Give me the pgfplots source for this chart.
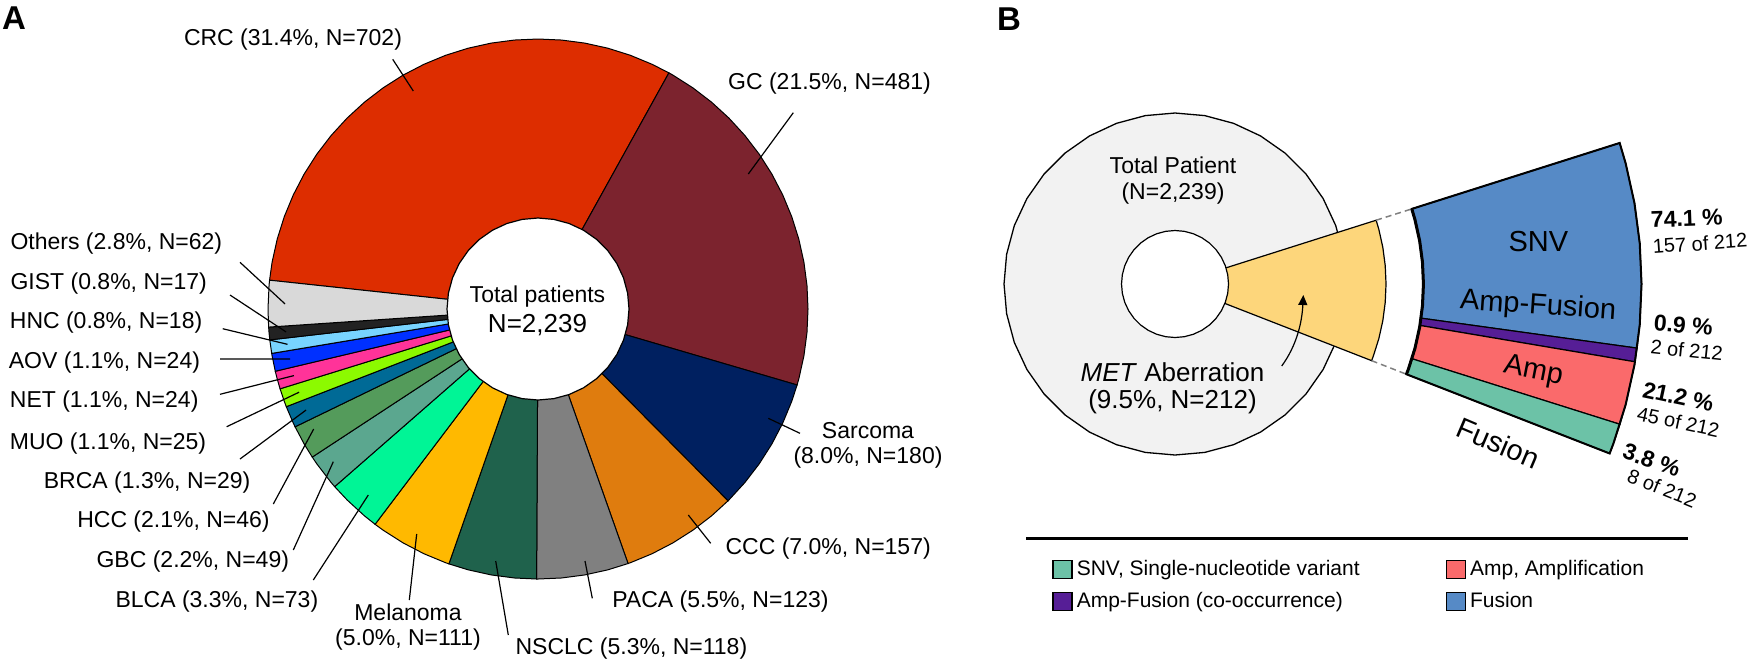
\documentclass[border=0pt]{standalone}
\usepackage{fontspec}
\setmainfont{Liberation Sans}
\usepackage{pgfplots}
\pgfplotsset{compat=1.18}
\usepgfplotslibrary{polar}
\usetikzlibrary{arrows.meta}

% panel A colours
\definecolor{crc}{HTML}{DD2D00}
\definecolor{gc}{HTML}{7C232E}
\definecolor{sarc}{HTML}{002060}
\definecolor{ccc}{HTML}{DF7C0E}
\definecolor{paca}{HTML}{808080}
\definecolor{nsclc}{HTML}{1F624C}
\definecolor{mela}{HTML}{FFB900}
\definecolor{blca}{HTML}{00F596}
\definecolor{gbc}{HTML}{5BA78F}
\definecolor{hcc}{HTML}{549B5B}
\definecolor{brca}{HTML}{006A96}
\definecolor{muo}{HTML}{8CFA00}
\definecolor{net}{HTML}{FF3399}
\definecolor{aov}{HTML}{0030FF}
\definecolor{hnc}{HTML}{78D4FF}
\definecolor{gist}{HTML}{222222}
\definecolor{others}{HTML}{D9D9D9}
% panel B colours
\definecolor{graycirc}{HTML}{F2F2F2}
\definecolor{metyellow}{HTML}{FDD67B}
\definecolor{fusblue}{HTML}{568AC6}
\definecolor{afpurple}{HTML}{561E96}
\definecolor{ampred}{HTML}{FA6A6B}
\definecolor{snvgreen}{HTML}{6CC2A7}

\newcommand{\labfont}{\fontsize{11.5}{12.5}\selectfont}
\newcommand{\bigfont}{\fontsize{13}{15}\selectfont}
\newcommand{\barfont}{\fontsize{14.5}{16}\selectfont}
\newcommand{\pctfont}{\fontsize{11.5}{13}\selectfont\bfseries}
\newcommand{\offont}{\fontsize{10}{12}\selectfont}

\pgfplotsset{
  slice/.style={data cs=polar, draw=black, line width=0.5pt, forget plot},
}

\begin{document}
\begin{tikzpicture}
\path[use as bounding box] (0,0) rectangle (874pt,-330.5pt);

% ---------------- A: patients by cancer type (N = 2,239) ----------------
% N: GC 481, Sarcoma 180, CCC 157, PACA 123, NSCLC 118, Melanoma 111, BLCA 73,
%    GBC 49, HCC 46, BRCA 29, MUO 25, NET 24, AOV 24, HNC 18, GIST 17,
%    Others 62, CRC 702  -> slice angles (deg), clockwise from 61
\begin{axis}[at={(0,0)}, anchor=north west, x=0.5pt, y=0.5pt,
  xmin=-538, xmax=1210, ymin=-352, ymax=309, hide axis, clip=false]

  \addplot[slice, fill=crc] coordinates {(0,0) (173.87,270) (170,270) (165,270) (160,270) (155,270) (150,270) (145,270) (140,270) (135,270) (130,270) (125,270) (120,270) (115,270) (110,270) (105,270) (100,270) (95,270) (90,270) (85,270) (80,270) (75,270) (70,270) (65,270) (61,270)} -- cycle;
  \addplot[slice, fill=gc] coordinates {(0,0) (61,270) (60,270) (55,270) (50,270) (45,270) (40,270) (35,270) (30,270) (25,270) (20,270) (15,270) (10,270) (5,270) (0,270) (-5,270) (-10,270) (-15,270) (-16.34,270)} -- cycle;
  \addplot[slice, fill=sarc] coordinates {(0,0) (-16.34,270) (-20,270) (-25,270) (-30,270) (-35,270) (-40,270) (-45,270) (-45.28,270)} -- cycle;
  \addplot[slice, fill=ccc] coordinates {(0,0) (-45.28,270) (-50,270) (-55,270) (-60,270) (-65,270) (-70,270) (-70.52,270)} -- cycle;
  \addplot[slice, fill=paca] coordinates {(0,0) (-70.52,270) (-75,270) (-80,270) (-85,270) (-90,270) (-90.30,270)} -- cycle;
  \addplot[slice, fill=nsclc] coordinates {(0,0) (-90.30,270) (-95,270) (-100,270) (-105,270) (-109.27,270)} -- cycle;
  \addplot[slice, fill=mela] coordinates {(0,0) (-109.27,270) (-110,270) (-115,270) (-120,270) (-125,270) (-127.12,270)} -- cycle;
  \addplot[slice, fill=blca] coordinates {(0,0) (-127.12,270) (-130,270) (-135,270) (-138.86,270)} -- cycle;
  \addplot[slice, fill=gbc] coordinates {(0,0) (-138.86,270) (-140,270) (-145,270) (-146.74,270)} -- cycle;
  \addplot[slice, fill=hcc] coordinates {(0,0) (-146.74,270) (-150,270) (-154.13,270)} -- cycle;
  \addplot[slice, fill=brca] coordinates {(0,0) (-154.13,270) (-155,270) (-158.79,270)} -- cycle;
  \addplot[slice, fill=muo] coordinates {(0,0) (-158.79,270) (-160,270) (-162.81,270)} -- cycle;
  \addplot[slice, fill=net] coordinates {(0,0) (-162.81,270) (-165,270) (-166.67,270)} -- cycle;
  \addplot[slice, fill=aov] coordinates {(0,0) (-166.67,270) (-170,270) (-170.53,270)} -- cycle;
  \addplot[slice, fill=hnc] coordinates {(0,0) (-170.53,270) (-173.43,270)} -- cycle;
  \addplot[slice, fill=gist] coordinates {(0,0) (-173.43,270) (-175,270) (-176.16,270)} -- cycle;
  \addplot[slice, fill=others] coordinates {(0,0) (-176.16,270) (-180,270) (-185,270) (-186.13,270)} -- cycle;
  % centre hole
  \addplot[slice, fill=white, line width=0.6pt] coordinates {(0,91) (10,91) (20,91) (30,91) (40,91) (50,91) (60,91) (70,91) (80,91) (90,91) (100,91) (110,91) (120,91) (130,91) (140,91) (150,91) (160,91) (170,91) (180,91) (190,91) (200,91) (210,91) (220,91) (230,91) (240,91) (250,91) (260,91) (270,91) (280,91) (290,91) (300,91) (310,91) (320,91) (330,91) (340,91) (350,91)} -- cycle;
\end{axis}

% ---------------- B: MET aberration (N = 212) ----------------
\begin{axis}[at={(0,0)}, anchor=north west, x=0.5pt, y=0.5pt,
  xmin=-1175, xmax=573, ymin=-377, ymax=284, hide axis, clip=false,
  legend columns=2, legend cell align=left,
  legend image code/.code={\draw[#1,draw=black,line width=0.7pt] (0pt,-4.5pt) rectangle (9.5pt,4.5pt);},
  legend style={at={(0.6018,0.1589)}, anchor=north west, draw=none, fill=none,
    inner sep=0pt, font=\fontsize{10.5}{12}\selectfont, row sep=3pt,
    /tikz/every even column/.append style={column sep=41pt}}]

  \addplot[slice, fill=graycirc, line width=0.65pt] coordinates {(0,171) (10,171) (20,171) (30,171) (40,171) (50,171) (60,171) (70,171) (80,171) (90,171) (100,171) (110,171) (120,171) (130,171) (140,171) (150,171) (160,171) (170,171) (180,171) (190,171) (200,171) (210,171) (220,171) (230,171) (240,171) (250,171) (260,171) (270,171) (280,171) (290,171) (300,171) (310,171) (320,171) (330,171) (340,171) (350,171)} -- cycle;
  \addplot[slice, fill=metyellow, line width=0.6pt] coordinates {(0,0) (17.6,211) (15,211) (10,211) (5,211) (0,211) (-5,211) (-10,211) (-15,211) (-20,211) (-21.3,211)} -- cycle;
  \addplot[slice, fill=white, line width=0.6pt] coordinates {(0,53.5) (10,53.5) (20,53.5) (30,53.5) (40,53.5) (50,53.5) (60,53.5) (70,53.5) (80,53.5) (90,53.5) (100,53.5) (110,53.5) (120,53.5) (130,53.5) (140,53.5) (150,53.5) (160,53.5) (170,53.5) (180,53.5) (190,53.5) (200,53.5) (210,53.5) (220,53.5) (230,53.5) (240,53.5) (250,53.5) (260,53.5) (270,53.5) (280,53.5) (290,53.5) (300,53.5) (310,53.5) (320,53.5) (330,53.5) (340,53.5) (350,53.5)} -- cycle;

  % connectors
  \addplot[data cs=polar, forget plot, draw=gray, line width=0.75pt, dash pattern=on 3pt off 2pt] coordinates {(17.6,211) (17.6,248.4)};
  \addplot[data cs=polar, forget plot, draw=gray, line width=0.75pt, dash pattern=on 3pt off 2pt] coordinates {(-21.3,211) (-21.3,248.4)};

  % stacked arc: 157 / 2 / 45 / 8 of 212
  \addplot[slice, fill=fusblue, line width=0.6pt] coordinates {(17.6,248.4) (17.6,466.5) (15,466.5) (10,466.5) (5,466.5) (0,466.5) (-5,466.5) (-7.9,466.5) (-7.9,248.4) (-5,248.4) (0,248.4) (5,248.4) (10,248.4) (15,248.4)} -- cycle;
  \addplot[slice, fill=afpurple, line width=0.6pt] coordinates {(-7.9,248.4) (-7.9,466.5) (-9.6,466.5) (-9.6,248.4)} -- cycle;
  \addplot[slice, fill=ampred, line width=0.6pt] coordinates {(-9.6,248.4) (-9.6,466.5) (-10,466.5) (-15,466.5) (-17.5,466.5) (-17.5,248.4) (-15,248.4) (-10,248.4)} -- cycle;
  \addplot[slice, fill=snvgreen, line width=0.6pt] coordinates {(-17.5,248.4) (-17.5,466.5) (-20,466.5) (-21.3,466.5) (-21.3,248.4) (-20,248.4)} -- cycle;
  \addplot[data cs=polar, forget plot, draw=black, line width=1pt] coordinates {(17.6,248.4) (17.6,466.5) (15,466.5) (10,466.5) (5,466.5) (0,466.5) (-5,466.5) (-10,466.5) (-15,466.5) (-20,466.5) (-21.3,466.5) (-21.3,248.4) (-20,248.4) (-15,248.4) (-10,248.4) (-5,248.4) (0,248.4) (5,248.4) (10,248.4) (15,248.4)} -- cycle;
  \addplot[data cs=polar, forget plot, draw=black, line width=1.5pt] coordinates {(17.6,248.4) (15,248.4) (10,248.4) (5,248.4) (0,248.4) (-5,248.4) (-10,248.4) (-15,248.4) (-20,248.4) (-21.3,248.4)};

  \addlegendimage{fill=snvgreen}
  \addlegendentry{SNV, Single-nucleotide variant}
  \addlegendimage{fill=ampred}
  \addlegendentry{Amp, Amplification}
  \addlegendimage{fill=afpurple}
  \addlegendentry{Amp-Fusion (co-occurrence)}
  \addlegendimage{fill=fusblue}
  \addlegendentry{Fusion}
\end{axis}

% ---------------- texts and leader lines (pixel grid) ----------------
\begin{scope}[x=0.5pt, y=-0.5pt, every node/.style={inner sep=0pt}, font=\labfont, line width=0.6pt]
  \node[font=\fontsize{16.5}{18}\selectfont\bfseries] at (14,18.5) {A};
  \node[font=\fontsize{16.5}{18}\selectfont\bfseries] at (1009,18.7) {B};

  \node at (293,40) {CRC (31.4\%, N=702)};
  \node at (829.5,83.3) {GC (21.5\%, N=481)};
  \node[align=center] at (868,445.5) {Sarcoma\\(8.0\%, N=180)};
  \node[anchor=west] at (725,548.3) {CCC (7.0\%, N=157)};
  \node[anchor=west] at (611.7,601.7) {PACA (5.5\%, N=123)};
  \node[anchor=west] at (515,648.3) {NSCLC (5.3\%, N=118)};
  \node[align=center] at (408,627) {Melanoma\\(5.0\%, N=111)};
  \node[anchor=west] at (115,601.7) {BLCA (3.3\%, N=73)};
  \node[anchor=west] at (96,561.7) {GBC (2.2\%, N=49)};
  \node[anchor=west] at (76.7,521.7) {HCC (2.1\%, N=46)};
  \node[anchor=west] at (43.3,482.3) {BRCA (1.3\%, N=29)};
  \node[anchor=west] at (9.3,443.3) {MUO (1.1\%, N=25)};
  \node[anchor=west] at (9.3,401.7) {NET (1.1\%, N=24)};
  \node[anchor=west] at (8.3,362.7) {AOV (1.1\%, N=24)};
  \node[anchor=west] at (9.3,322.7) {HNC (0.8\%, N=18)};
  \node[anchor=west] at (10,283.3) {GIST (0.8\%, N=17)};
  \node[anchor=west] at (10,243.3) {Others (2.8\%, N=62)};

  \node at (537.5,296.7) {Total patients};
  \node[font=\bigfont] at (537.5,325) {N=2,239};

  \draw (392.7,59.3) -- (413.3,91);
  \draw (793.3,112.7) -- (748.3,174);
  \draw (800,433.3) -- (768.3,418.3);
  \draw (710.7,543.3) -- (688.3,515);
  \draw (592.3,598.3) -- (585,561);
  \draw (508.3,635) -- (495.7,561);
  \draw (409.3,600) -- (416.7,534);
  \draw (313.3,580) -- (368.3,495);
  \draw (293.3,550) -- (333.3,461.7);
  \draw (273.3,504) -- (313.7,429);
  \draw (538,309) ++(-156.46:126.5pt) -- (240,459);
  \draw (538,309) ++(-160.80:126.5pt) -- (226.7,426.7);
  \draw (538,309) ++(-164.74:126.5pt) -- (220,394.3);
  \draw (538,309) ++(-168.60:126.5pt) -- (220,359);
  \draw (538,309) ++(-171.98:126.5pt) -- (222.7,328.7);
  \draw (538,309) ++(-174.80:126.5pt) -- (230,295);
  \draw (538,309) ++(-181.15:126.5pt) -- (240,262.3);

  \node at (1173,165.7) {Total Patient};
  \node at (1173,193.3) {(N=2,239)};
  \node[font=\bigfont] at (1172.5,371.7) {\textit{MET} Aberration};
  \node[font=\bigfont] at (1172.5,401.7) {(9.5\%, N=212)};
  \draw[-{Triangle[length=5pt,width=4.5pt]}] (1281.7,366) .. controls (1297,345) and (1302,322) .. (1303.3,295);

  \node[font=\barfont] at (1538.3,241.7) {SNV};
  \node[font=\barfont, rotate=-4] at (1538,306.7) {Amp-Fusion};
  \node[font=\barfont, rotate=-11] at (1533.3,371.7) {Amp};
  \node[font=\barfont, rotate=-23] at (1498.3,443) {Fusion};

  \node[font=\pctfont, rotate=2] at (1686.7,218.3) {74.1 \%};
  \node[font=\offont, rotate=4] at (1700,243.3) {157 of 212};
  \node[font=\pctfont, rotate=-5] at (1683.3,325) {0.9 \%};
  \node[font=\offont, rotate=-6] at (1686.7,350) {2 of 212};
  \node[font=\pctfont, rotate=-12] at (1678.3,396.7) {21.2 \%};
  \node[font=\offont, rotate=-12] at (1678.3,421.7) {45 of 212};
  \node[font=\pctfont, rotate=-19] at (1651.7,460) {3.8 \%};
  \node[font=\offont, rotate=-22] at (1662,488) {8 of 212};

  \draw[line width=1.5pt] (1026,538) -- (1688,538);
\end{scope}
\end{tikzpicture}
\end{document}
